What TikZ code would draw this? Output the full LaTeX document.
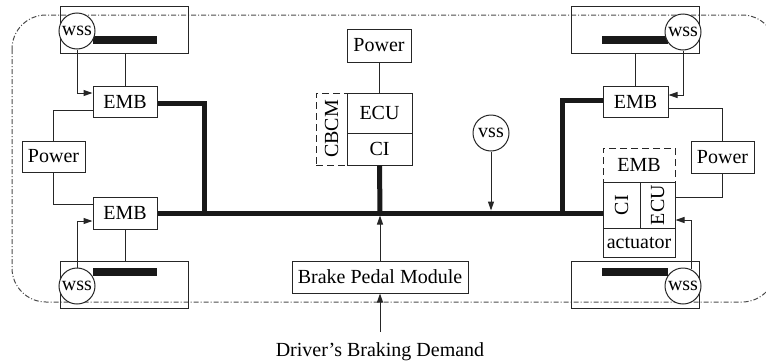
\documentclass[tikz,border=0pt]{standalone}
\usepackage{fontspec}
\setmainfont{Liberation Serif}
\usepackage{graphicx}
\usetikzlibrary{arrows.meta}
\begin{document}
\begin{tikzpicture}[x=1pt,y=-1pt,
  lbl/.style={font=\fontsize{20}{24}\selectfont},
  bx/.style={draw=black!85, line width=1pt, inner sep=0pt, font=\fontsize{20}{24}\selectfont},
  dbx/.style={bx, dash pattern=on 7pt off 4pt},
  sens/.style={circle, draw=black!85, fill=white, line width=1pt, inner sep=0pt, minimum size=36pt, font=\fontsize{20}{24}\selectfont},
  thinl/.style={draw=black!85, line width=1pt},
  arr/.style={thinl, -{Triangle[length=9pt,width=6pt]}},
  busl/.style={line width=5pt, draw=black!90, line join=miter},
  bar/.style={fill=black!90, inner sep=0pt, minimum width=64pt, minimum height=8pt},
]
\useasboundingbox (0,0) rectangle (766,362);
\clip (0,0) rectangle (766,362);

% boundary
\draw[black!70, line width=1pt, dash pattern=on 5pt off 2pt on 1pt off 2pt, rounded corners=34pt] (12,15) rectangle (776,302);

% wheel boxes
\node[bx, minimum width=128pt, minimum height=47pt] (wTL) at (124,29.5) {};
\node[bx, minimum width=128pt, minimum height=47pt] (wTR) at (635,29.5) {};
\node[bx, minimum width=128pt, minimum height=47pt] (wBL) at (124,284.5) {};
\node[bx, minimum width=128pt, minimum height=47pt] (wBR) at (635,284.5) {};

% bars
\node[bar] (bTL) at (125,40) {};
\node[bar] (bBL) at (125,272) {};
\node[bar, minimum width=66pt] (bTR) at (635,40) {};
\node[bar, minimum width=66pt] (bBR) at (635,272) {};

% wheel speed sensors
\node[sens] (sTL) at (77,31) {wss};
\node[sens] (sTR) at (683,32) {wss};
\node[sens] (sBL) at (77,286) {wss};
\node[sens] (sBR) at (683,286) {wss};

% EMBs
\node[bx, minimum width=64pt, minimum height=31pt] (eTL) at (125,101.5) {EMB};
\node[bx, minimum width=64pt, minimum height=32pt] (eBL) at (125,213) {EMB};
\node[bx, minimum width=65pt, minimum height=31pt] (eTR) at (635.5,101.5) {EMB};

% composite EMB (right)
\node[dbx, minimum width=72pt, minimum height=34pt] (dEMB) at (639,165) {EMB};
\node[bx, minimum width=37pt, minimum height=46pt] (ciR) at (621.5,205) {\rotatebox{90}{CI}};
\node[bx, minimum width=35pt, minimum height=46pt] (ecuR) at (657.5,205) {\rotatebox{90}{ECU}};
\node[bx, minimum width=72pt, minimum height=29pt] (act) at (639,242.5) {actuator};

% Power
\node[bx, minimum width=63pt, minimum height=31pt] (pL) at (53.5,156.5) {Power};
\node[bx, minimum width=63pt, minimum height=32pt] (pR) at (722.5,157) {Power};
\node[bx, minimum width=64pt, minimum height=33pt] (pC) at (379,45.5) {Power};

% CBCM
\node[dbx, minimum width=31pt, minimum height=72pt] (cbcm) at (331.5,129) {\rotatebox{90}{CBCM}};
\node[bx, minimum width=65pt, minimum height=40pt] (ecuC) at (379.5,113) {ECU};
\node[bx, minimum width=65pt, minimum height=32pt] (ciC) at (379.5,149) {CI};

% vss
\node[sens] (vss) at (491,133) {vss};

% brake pedal
\node[bx, minimum width=176pt, minimum height=32pt] (bpm) at (380,277) {Brake Pedal Module};
\node[lbl, anchor=north, inner sep=0pt] (drv) at (380,342) {Driver's Braking Demand};

% bus junctions
\coordinate (jL) at (204,213);
\coordinate (jR) at (562,213);
\coordinate (jC) at (380,213);
\coordinate (jV) at (491,213);

% bus
\draw[busl] (eBL.east) -- (eBL.east -| ciR.west);
\draw[busl] ([yshift=-1.5pt]eTL.east) -| (jL);
\draw[busl] ([yshift=1.5pt]eTR.west) -| (jR);
\draw[busl] (ciC.south) -- (jC);

% thin connections
\draw[thinl] (eTL.north |- wTL.south) -- (eTL.north);
\draw[thinl] (eBL.south |- wBL.north) -- (eBL.south);
\draw[thinl] (eTR.north |- wTR.south) -- (eTR.north);
\draw[thinl] (pC.south) -- (pC.south |- ecuC.north);
\draw[thinl] (pL.north) |- ([yshift=-8.5pt]eTL.west);
\draw[thinl] (pL.south) |- ([yshift=9pt]eBL.west);
\draw[thinl] ([yshift=-6.5pt]eTR.east) -| (pR.north);
\draw[thinl] (pR.south) |- ([yshift=8pt]ecuR.east);

% arrows
\draw[arr] (sTL.south) |- ([yshift=8.5pt]eTL.west);
\draw[arr] (sBL.north) |- ([yshift=-8pt]eBL.west);
\draw[arr] (sTR.south) |- ([yshift=6.5pt]eTR.east);
\draw[arr] (sBR.64) |- ([yshift=-15pt]ecuR.east);
\draw[arr] (vss.south) -- ([yshift=2.5pt]jV);
\draw[arr] (bpm.north) -- ([yshift=-2.5pt]jC);
\draw[arr] ([yshift=10pt]drv.north) -- (bpm.south);
\end{tikzpicture}
\end{document}
